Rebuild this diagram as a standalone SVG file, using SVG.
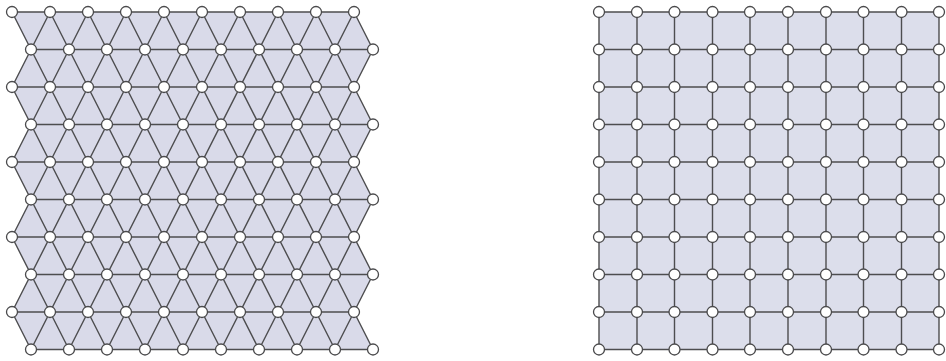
<svg xmlns="http://www.w3.org/2000/svg" width="946" height="361" viewBox="0 0 946 361">
<style>
.fill{fill:#d9dae9;stroke:none}
.fill2{fill:#dcdeeb;stroke:none}
.edge{fill:none;stroke:#4d4d4f;stroke-width:1.4;stroke-linecap:round}
circle{fill:#ffffff;stroke:#4a4a4c;stroke-width:1.3}
</style>
<rect width="946" height="361" fill="#ffffff"/>
<polygon class="fill" points="12,12 31,49.5 12,87 31,124.5 12,162 31,199.5 12,237 31,274.5 12,312 31,349.5 373,349.5 354,312 373,274.5 354,237 373,199.5 354,162 373,124.5 354,87 373,49.5 354,12"/>
<rect class="fill2" x="599" y="12" width="340" height="337.5"/>
<g id="connectors">
<path class="edge" d="M12 12H354M31 49.5H373M12 87H354M31 124.5H373M12 162H354M31 199.5H373M12 237H354M31 274.5H373M12 312H354M31 349.5H373
M12 312L31 349.5M12 237L69 349.5M12 162L107 349.5M12 87L145 349.5M12 12L183 349.5M50 12L221 349.5M88 12L259 349.5M126 12L297 349.5M164 12L335 349.5M202 12L373 349.5M240 12L373 274.5M278 12L373 199.5M316 12L373 124.5M354 12L373 49.5
M50 12L12 87M88 12L12 162M126 12L12 237M164 12L12 312M202 12L31 349.5M240 12L69 349.5M278 12L107 349.5M316 12L145 349.5M354 12L183 349.5M373 49.5L221 349.5M373 124.5L259 349.5M373 199.5L297 349.5M373 274.5L335 349.5"/>
<path class="edge" d="M599 12H939M599 49.5H939M599 87H939M599 124.5H939M599 162H939M599 199.5H939M599 237H939M599 274.5H939M599 312H939M599 349.5H939
M599 12V349.5M637 12V349.5M674.5 12V349.5M712.5 12V349.5M750 12V349.5M788 12V349.5M826 12V349.5M863.5 12V349.5M901.5 12V349.5M939 12V349.5"/>
</g>
<g id="triangular-nodes">
<g id="t0-0"><circle cx="12" cy="12" r="5.5"/></g><g id="t0-1"><circle cx="50" cy="12" r="5.5"/></g><g id="t0-2"><circle cx="88" cy="12" r="5.5"/></g><g id="t0-3"><circle cx="126" cy="12" r="5.5"/></g><g id="t0-4"><circle cx="164" cy="12" r="5.5"/></g><g id="t0-5"><circle cx="202" cy="12" r="5.5"/></g><g id="t0-6"><circle cx="240" cy="12" r="5.5"/></g><g id="t0-7"><circle cx="278" cy="12" r="5.5"/></g><g id="t0-8"><circle cx="316" cy="12" r="5.5"/></g><g id="t0-9"><circle cx="354" cy="12" r="5.5"/></g>
<g id="t1-0"><circle cx="31" cy="49.5" r="5.5"/></g><g id="t1-1"><circle cx="69" cy="49.5" r="5.5"/></g><g id="t1-2"><circle cx="107" cy="49.5" r="5.5"/></g><g id="t1-3"><circle cx="145" cy="49.5" r="5.5"/></g><g id="t1-4"><circle cx="183" cy="49.5" r="5.5"/></g><g id="t1-5"><circle cx="221" cy="49.5" r="5.5"/></g><g id="t1-6"><circle cx="259" cy="49.5" r="5.5"/></g><g id="t1-7"><circle cx="297" cy="49.5" r="5.5"/></g><g id="t1-8"><circle cx="335" cy="49.5" r="5.5"/></g><g id="t1-9"><circle cx="373" cy="49.5" r="5.5"/></g>
<g id="t2-0"><circle cx="12" cy="87" r="5.5"/></g><g id="t2-1"><circle cx="50" cy="87" r="5.5"/></g><g id="t2-2"><circle cx="88" cy="87" r="5.5"/></g><g id="t2-3"><circle cx="126" cy="87" r="5.5"/></g><g id="t2-4"><circle cx="164" cy="87" r="5.5"/></g><g id="t2-5"><circle cx="202" cy="87" r="5.5"/></g><g id="t2-6"><circle cx="240" cy="87" r="5.5"/></g><g id="t2-7"><circle cx="278" cy="87" r="5.5"/></g><g id="t2-8"><circle cx="316" cy="87" r="5.5"/></g><g id="t2-9"><circle cx="354" cy="87" r="5.5"/></g>
<g id="t3-0"><circle cx="31" cy="124.5" r="5.5"/></g><g id="t3-1"><circle cx="69" cy="124.5" r="5.5"/></g><g id="t3-2"><circle cx="107" cy="124.5" r="5.5"/></g><g id="t3-3"><circle cx="145" cy="124.5" r="5.5"/></g><g id="t3-4"><circle cx="183" cy="124.5" r="5.5"/></g><g id="t3-5"><circle cx="221" cy="124.5" r="5.5"/></g><g id="t3-6"><circle cx="259" cy="124.5" r="5.5"/></g><g id="t3-7"><circle cx="297" cy="124.5" r="5.5"/></g><g id="t3-8"><circle cx="335" cy="124.5" r="5.5"/></g><g id="t3-9"><circle cx="373" cy="124.5" r="5.5"/></g>
<g id="t4-0"><circle cx="12" cy="162" r="5.5"/></g><g id="t4-1"><circle cx="50" cy="162" r="5.5"/></g><g id="t4-2"><circle cx="88" cy="162" r="5.5"/></g><g id="t4-3"><circle cx="126" cy="162" r="5.5"/></g><g id="t4-4"><circle cx="164" cy="162" r="5.5"/></g><g id="t4-5"><circle cx="202" cy="162" r="5.5"/></g><g id="t4-6"><circle cx="240" cy="162" r="5.5"/></g><g id="t4-7"><circle cx="278" cy="162" r="5.5"/></g><g id="t4-8"><circle cx="316" cy="162" r="5.5"/></g><g id="t4-9"><circle cx="354" cy="162" r="5.5"/></g>
<g id="t5-0"><circle cx="31" cy="199.5" r="5.5"/></g><g id="t5-1"><circle cx="69" cy="199.5" r="5.5"/></g><g id="t5-2"><circle cx="107" cy="199.5" r="5.5"/></g><g id="t5-3"><circle cx="145" cy="199.5" r="5.5"/></g><g id="t5-4"><circle cx="183" cy="199.5" r="5.5"/></g><g id="t5-5"><circle cx="221" cy="199.5" r="5.5"/></g><g id="t5-6"><circle cx="259" cy="199.5" r="5.5"/></g><g id="t5-7"><circle cx="297" cy="199.5" r="5.5"/></g><g id="t5-8"><circle cx="335" cy="199.5" r="5.5"/></g><g id="t5-9"><circle cx="373" cy="199.5" r="5.5"/></g>
<g id="t6-0"><circle cx="12" cy="237" r="5.5"/></g><g id="t6-1"><circle cx="50" cy="237" r="5.5"/></g><g id="t6-2"><circle cx="88" cy="237" r="5.5"/></g><g id="t6-3"><circle cx="126" cy="237" r="5.5"/></g><g id="t6-4"><circle cx="164" cy="237" r="5.5"/></g><g id="t6-5"><circle cx="202" cy="237" r="5.5"/></g><g id="t6-6"><circle cx="240" cy="237" r="5.5"/></g><g id="t6-7"><circle cx="278" cy="237" r="5.5"/></g><g id="t6-8"><circle cx="316" cy="237" r="5.5"/></g><g id="t6-9"><circle cx="354" cy="237" r="5.5"/></g>
<g id="t7-0"><circle cx="31" cy="274.5" r="5.5"/></g><g id="t7-1"><circle cx="69" cy="274.5" r="5.5"/></g><g id="t7-2"><circle cx="107" cy="274.5" r="5.5"/></g><g id="t7-3"><circle cx="145" cy="274.5" r="5.5"/></g><g id="t7-4"><circle cx="183" cy="274.5" r="5.5"/></g><g id="t7-5"><circle cx="221" cy="274.5" r="5.5"/></g><g id="t7-6"><circle cx="259" cy="274.5" r="5.5"/></g><g id="t7-7"><circle cx="297" cy="274.5" r="5.5"/></g><g id="t7-8"><circle cx="335" cy="274.5" r="5.5"/></g><g id="t7-9"><circle cx="373" cy="274.5" r="5.5"/></g>
<g id="t8-0"><circle cx="12" cy="312" r="5.5"/></g><g id="t8-1"><circle cx="50" cy="312" r="5.5"/></g><g id="t8-2"><circle cx="88" cy="312" r="5.5"/></g><g id="t8-3"><circle cx="126" cy="312" r="5.5"/></g><g id="t8-4"><circle cx="164" cy="312" r="5.5"/></g><g id="t8-5"><circle cx="202" cy="312" r="5.5"/></g><g id="t8-6"><circle cx="240" cy="312" r="5.5"/></g><g id="t8-7"><circle cx="278" cy="312" r="5.5"/></g><g id="t8-8"><circle cx="316" cy="312" r="5.5"/></g><g id="t8-9"><circle cx="354" cy="312" r="5.5"/></g>
<g id="t9-0"><circle cx="31" cy="349.5" r="5.5"/></g><g id="t9-1"><circle cx="69" cy="349.5" r="5.5"/></g><g id="t9-2"><circle cx="107" cy="349.5" r="5.5"/></g><g id="t9-3"><circle cx="145" cy="349.5" r="5.5"/></g><g id="t9-4"><circle cx="183" cy="349.5" r="5.5"/></g><g id="t9-5"><circle cx="221" cy="349.5" r="5.5"/></g><g id="t9-6"><circle cx="259" cy="349.5" r="5.5"/></g><g id="t9-7"><circle cx="297" cy="349.5" r="5.5"/></g><g id="t9-8"><circle cx="335" cy="349.5" r="5.5"/></g><g id="t9-9"><circle cx="373" cy="349.5" r="5.5"/></g>
</g>
<g id="square-nodes">
<g id="s0-0"><circle cx="599" cy="12" r="5.5"/></g><g id="s0-1"><circle cx="637" cy="12" r="5.5"/></g><g id="s0-2"><circle cx="674.5" cy="12" r="5.5"/></g><g id="s0-3"><circle cx="712.5" cy="12" r="5.5"/></g><g id="s0-4"><circle cx="750" cy="12" r="5.5"/></g><g id="s0-5"><circle cx="788" cy="12" r="5.5"/></g><g id="s0-6"><circle cx="826" cy="12" r="5.5"/></g><g id="s0-7"><circle cx="863.5" cy="12" r="5.5"/></g><g id="s0-8"><circle cx="901.5" cy="12" r="5.5"/></g><g id="s0-9"><circle cx="939" cy="12" r="5.5"/></g>
<g id="s1-0"><circle cx="599" cy="49.5" r="5.5"/></g><g id="s1-1"><circle cx="637" cy="49.5" r="5.5"/></g><g id="s1-2"><circle cx="674.5" cy="49.5" r="5.5"/></g><g id="s1-3"><circle cx="712.5" cy="49.5" r="5.5"/></g><g id="s1-4"><circle cx="750" cy="49.5" r="5.5"/></g><g id="s1-5"><circle cx="788" cy="49.5" r="5.5"/></g><g id="s1-6"><circle cx="826" cy="49.5" r="5.5"/></g><g id="s1-7"><circle cx="863.5" cy="49.5" r="5.5"/></g><g id="s1-8"><circle cx="901.5" cy="49.5" r="5.5"/></g><g id="s1-9"><circle cx="939" cy="49.5" r="5.5"/></g>
<g id="s2-0"><circle cx="599" cy="87" r="5.5"/></g><g id="s2-1"><circle cx="637" cy="87" r="5.5"/></g><g id="s2-2"><circle cx="674.5" cy="87" r="5.5"/></g><g id="s2-3"><circle cx="712.5" cy="87" r="5.5"/></g><g id="s2-4"><circle cx="750" cy="87" r="5.5"/></g><g id="s2-5"><circle cx="788" cy="87" r="5.5"/></g><g id="s2-6"><circle cx="826" cy="87" r="5.5"/></g><g id="s2-7"><circle cx="863.5" cy="87" r="5.5"/></g><g id="s2-8"><circle cx="901.5" cy="87" r="5.5"/></g><g id="s2-9"><circle cx="939" cy="87" r="5.5"/></g>
<g id="s3-0"><circle cx="599" cy="124.5" r="5.5"/></g><g id="s3-1"><circle cx="637" cy="124.5" r="5.5"/></g><g id="s3-2"><circle cx="674.5" cy="124.5" r="5.5"/></g><g id="s3-3"><circle cx="712.5" cy="124.5" r="5.5"/></g><g id="s3-4"><circle cx="750" cy="124.5" r="5.5"/></g><g id="s3-5"><circle cx="788" cy="124.5" r="5.5"/></g><g id="s3-6"><circle cx="826" cy="124.5" r="5.5"/></g><g id="s3-7"><circle cx="863.5" cy="124.5" r="5.5"/></g><g id="s3-8"><circle cx="901.5" cy="124.5" r="5.5"/></g><g id="s3-9"><circle cx="939" cy="124.5" r="5.5"/></g>
<g id="s4-0"><circle cx="599" cy="162" r="5.5"/></g><g id="s4-1"><circle cx="637" cy="162" r="5.5"/></g><g id="s4-2"><circle cx="674.5" cy="162" r="5.5"/></g><g id="s4-3"><circle cx="712.5" cy="162" r="5.5"/></g><g id="s4-4"><circle cx="750" cy="162" r="5.5"/></g><g id="s4-5"><circle cx="788" cy="162" r="5.5"/></g><g id="s4-6"><circle cx="826" cy="162" r="5.5"/></g><g id="s4-7"><circle cx="863.5" cy="162" r="5.5"/></g><g id="s4-8"><circle cx="901.5" cy="162" r="5.5"/></g><g id="s4-9"><circle cx="939" cy="162" r="5.5"/></g>
<g id="s5-0"><circle cx="599" cy="199.5" r="5.5"/></g><g id="s5-1"><circle cx="637" cy="199.5" r="5.5"/></g><g id="s5-2"><circle cx="674.5" cy="199.5" r="5.5"/></g><g id="s5-3"><circle cx="712.5" cy="199.5" r="5.5"/></g><g id="s5-4"><circle cx="750" cy="199.5" r="5.5"/></g><g id="s5-5"><circle cx="788" cy="199.5" r="5.5"/></g><g id="s5-6"><circle cx="826" cy="199.5" r="5.5"/></g><g id="s5-7"><circle cx="863.5" cy="199.5" r="5.5"/></g><g id="s5-8"><circle cx="901.5" cy="199.5" r="5.5"/></g><g id="s5-9"><circle cx="939" cy="199.5" r="5.5"/></g>
<g id="s6-0"><circle cx="599" cy="237" r="5.5"/></g><g id="s6-1"><circle cx="637" cy="237" r="5.5"/></g><g id="s6-2"><circle cx="674.5" cy="237" r="5.5"/></g><g id="s6-3"><circle cx="712.5" cy="237" r="5.5"/></g><g id="s6-4"><circle cx="750" cy="237" r="5.5"/></g><g id="s6-5"><circle cx="788" cy="237" r="5.5"/></g><g id="s6-6"><circle cx="826" cy="237" r="5.5"/></g><g id="s6-7"><circle cx="863.5" cy="237" r="5.5"/></g><g id="s6-8"><circle cx="901.5" cy="237" r="5.5"/></g><g id="s6-9"><circle cx="939" cy="237" r="5.5"/></g>
<g id="s7-0"><circle cx="599" cy="274.5" r="5.5"/></g><g id="s7-1"><circle cx="637" cy="274.5" r="5.5"/></g><g id="s7-2"><circle cx="674.5" cy="274.5" r="5.5"/></g><g id="s7-3"><circle cx="712.5" cy="274.5" r="5.5"/></g><g id="s7-4"><circle cx="750" cy="274.5" r="5.5"/></g><g id="s7-5"><circle cx="788" cy="274.5" r="5.5"/></g><g id="s7-6"><circle cx="826" cy="274.5" r="5.5"/></g><g id="s7-7"><circle cx="863.5" cy="274.5" r="5.5"/></g><g id="s7-8"><circle cx="901.5" cy="274.5" r="5.5"/></g><g id="s7-9"><circle cx="939" cy="274.5" r="5.5"/></g>
<g id="s8-0"><circle cx="599" cy="312" r="5.5"/></g><g id="s8-1"><circle cx="637" cy="312" r="5.5"/></g><g id="s8-2"><circle cx="674.5" cy="312" r="5.5"/></g><g id="s8-3"><circle cx="712.5" cy="312" r="5.5"/></g><g id="s8-4"><circle cx="750" cy="312" r="5.5"/></g><g id="s8-5"><circle cx="788" cy="312" r="5.5"/></g><g id="s8-6"><circle cx="826" cy="312" r="5.5"/></g><g id="s8-7"><circle cx="863.5" cy="312" r="5.5"/></g><g id="s8-8"><circle cx="901.5" cy="312" r="5.5"/></g><g id="s8-9"><circle cx="939" cy="312" r="5.5"/></g>
<g id="s9-0"><circle cx="599" cy="349.5" r="5.5"/></g><g id="s9-1"><circle cx="637" cy="349.5" r="5.5"/></g><g id="s9-2"><circle cx="674.5" cy="349.5" r="5.5"/></g><g id="s9-3"><circle cx="712.5" cy="349.5" r="5.5"/></g><g id="s9-4"><circle cx="750" cy="349.5" r="5.5"/></g><g id="s9-5"><circle cx="788" cy="349.5" r="5.5"/></g><g id="s9-6"><circle cx="826" cy="349.5" r="5.5"/></g><g id="s9-7"><circle cx="863.5" cy="349.5" r="5.5"/></g><g id="s9-8"><circle cx="901.5" cy="349.5" r="5.5"/></g><g id="s9-9"><circle cx="939" cy="349.5" r="5.5"/></g>
</g>
</svg>
